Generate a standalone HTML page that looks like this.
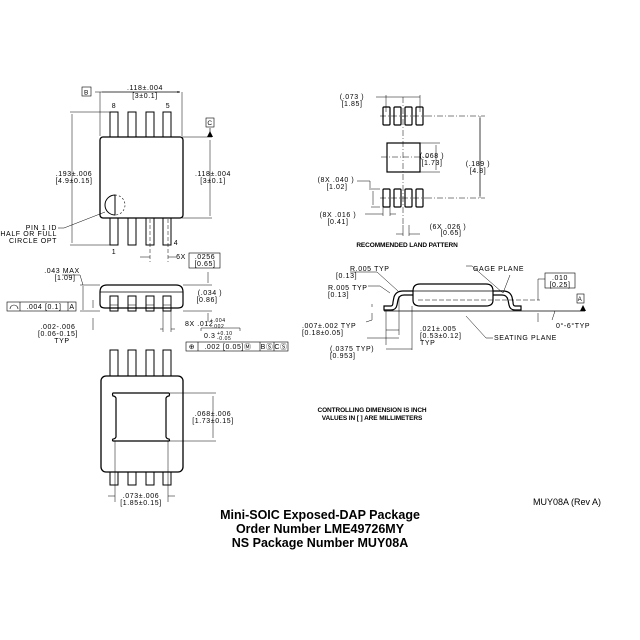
<!DOCTYPE html>
<html><head><meta charset="utf-8"><style>
html,body{margin:0;padding:0;background:#fff}
svg{display:block}
text{font-family:"Liberation Sans",sans-serif;font-size:7px;fill:#000;letter-spacing:0.6px}
.c{text-anchor:middle}.r{text-anchor:end}
.t{font-family:"Liberation Sans",sans-serif;font-weight:bold;font-size:12.5px;letter-spacing:0}
</style></head><body>
<svg width="640" height="640" viewBox="0 0 640 640" xmlns="http://www.w3.org/2000/svg">
<defs><marker id="a" viewBox="0 0 10 10" refX="10" refY="5" markerWidth="5" markerHeight="5" orient="auto-start-reverse"><path d="M0,1 L10,5 L0,9z"/></marker></defs>
<g fill="none" stroke="#000" stroke-width="1">
<!-- top view -->
<rect x="110" y="112" width="8" height="26" fill="#fff"/><rect x="128" y="112" width="8" height="26"/><rect x="146" y="112" width="8" height="26"/><rect x="163" y="112" width="8" height="26"/>
<rect x="110" y="217" width="8" height="28"/><rect x="128" y="217" width="8" height="28"/><rect x="146" y="217" width="8" height="28"/><rect x="163" y="217" width="8" height="28"/>
<rect x="100" y="137" width="83" height="81" rx="3" fill="#fff" stroke-width="1.3"/>
<path d="M115,195 A10,10 0 0 0 115,215 Z"/>
<path d="M115,195 A10,10 0 0 1 115,215" stroke-dasharray="2,2" stroke-width="0.6"/>
<path d="M150,219 V262 M168,219 V262" stroke-width="0.5" stroke-dasharray="4,2"/>
<path d="M100,92 V136 M182,92 V136 M102,92 H180" stroke-width="0.5"/>
<path d="M95,92 H180" stroke-width="0.5" marker-end="url(#a)"/>
<path d="M182,137 H212 M182,218 H212 M210,140 V216 M72,114 V243 M70,112 H110 M70,245 H110" stroke-width="0.5"/>
<path d="M210,128 V137" stroke-width="0.6" marker-end="url(#a)"/>
<path d="M58,228 L64,228 L105,212" stroke-width="0.5"/>
<path d="M150,257 H140 M168,257 H176" stroke-width="0.5"/>
<rect x="82" y="87" width="9" height="9" stroke-width="0.6"/>
<rect x="206" y="118" width="8" height="9" stroke-width="0.6"/>
<rect x="189" y="253" width="31" height="15" stroke-width="0.6"/>
<!-- side view left -->
<rect x="110" y="296" width="8" height="15"/><rect x="128" y="296" width="8" height="15"/><rect x="146" y="296" width="8" height="15"/><rect x="163" y="296" width="8" height="15"/>
<path d="M110,305H118M128,305H136M146,305H154M163,305H171" stroke-width="0.6"/>
<path d="M100,292 Q100,285 107,285 H176 Q183,285 183,292 V304 Q183,308 178,308 H105 Q100,308 100,304 Z" fill="none" stroke-width="1.2"/>
<path d="M100,292 H183" stroke-width="0.8"/>
<path d="M83,286 V310 M80,285 H100 M80,311 H100 M183,285 H212 M183,311 H212 M208,272 V283 M208,313 V322 M93,300 V308 M93,318 V330 M62,275 H80 L83,285 M163,311 V332 M171,311 V332 M160,329 H163 M171,329 H175" stroke-width="0.5"/>
<rect x="7" y="302" width="69" height="9" stroke-width="0.6"/><path d="M20,302V311M68,302V311" stroke-width="0.6"/>
<path d="M10,309 A4,4 0 0 1 18,309" stroke-width="0.6"/>
<rect x="186" y="342" width="102" height="9" stroke-width="0.6"/><path d="M198,342V351M260,342V351M274,342V351" stroke-width="0.6"/>
<path d="M201,331 V328 H240 V331" stroke-width="0.5"/>
<!-- bottom view -->
<rect x="110" y="350" width="8" height="28"/><rect x="128" y="350" width="8" height="28"/><rect x="146" y="350" width="8" height="28"/><rect x="163" y="350" width="8" height="28"/>
<rect x="110" y="470" width="8" height="15"/><rect x="128" y="470" width="8" height="15"/><rect x="146" y="470" width="8" height="15"/><rect x="163" y="470" width="8" height="15"/>
<rect x="101" y="376" width="82" height="96" rx="5" fill="#fff" stroke-width="1.3"/>
<path d="M113,393 H169 Q170,394 169,396 Q167,396 166,398 V437 Q167,439 169,439 Q170,441 169,441 H113 Q112,440 113,439 Q115,439 116,437 V398 Q115,396 113,396 Q112,394 113,393Z" stroke-width="1.2"/>
<path d="M170,393 H216 M170,441 H216 M213,396 V438 M115,441 V502 M168,441 V502 M108,496 H115 M168,496 H175" stroke-width="0.5"/>
<!-- land pattern -->
<g stroke-width="1.2">
<rect x="383" y="107" width="7" height="18" rx="1"/><rect x="394" y="107" width="7" height="18" rx="1"/><rect x="405" y="107" width="7" height="18" rx="1"/><rect x="416" y="107" width="7" height="18" rx="1"/>
<rect x="383" y="189" width="7" height="18" rx="1"/><rect x="394" y="189" width="7" height="18" rx="1"/><rect x="405" y="189" width="7" height="18" rx="1"/><rect x="416" y="189" width="7" height="18" rx="1"/>
<rect x="387" y="143" width="33" height="29"/></g>
<path d="M380,116 H426 M380,198 H426 M381,157 H428 M426,116 H485 M426,198 H485 M403,97 V225" stroke-width="0.5" stroke-dasharray="6,2,1,2"/>
<path d="M386,95 V112 M420,95 V112 M386,97 H420 M376,97 H386 M480,118 V196 M420,143 H440 M420,172 H440 M436,145 V170 M380,189 H371 M380,207 H371 M373,191 V205 M357,181 H370 V190 M383,207 V216 M390,207 V216 M365,214 H383 M390,214 H396 M403,225 V236 M409,225 V236 M396,234 H403 M409,234 H420" stroke-width="0.5"/>
<path d="M480,116 V198" stroke-width="0.5"/>
<!-- side view right -->
<path d="M413,291 Q413,284 420,284 H486 Q493,284 493,291 V300 Q493,306 486,306 H420 Q413,306 413,300 Z" stroke-width="1.2"/>
<path d="M413,291 H493" stroke-width="0.8"/>
<path d="M413,295 L404,295 Q399,295 398,300 L397,305 Q396,310 391,310 H384 V306 H391 Q393,306 393,302 L394,297 Q396,291 403,291 H413" stroke-width="1.2"/>
<path d="M493,295 L502,295 Q507,295 508,300 L509,305 Q510,310 515,310 H521 V306 H515 Q513,306 513,302 L512,297 Q510,291 503,291 H493" stroke-width="1.2"/>
<path d="M418,300 H540" stroke-width="0.5" stroke-dasharray="5,2"/>
<path d="M384,311 H585" stroke-width="0.7"/>
<path d="M386,311 V345 M399,296 V335 M412,306 V350 M386,330 H399 M386,349 H412 M372,304 V307 M372,313 V320 M538,300 V279 H545 M538,313 V322 M555,311 L552,320 M510,275 L503,293 L472,266 H466 M466,316 L486,338 H493 M377,272 L398,291 M350,272 L377,272 M380,286 L390,293 M368,286 L380,286 M372,320 L366,322 M367,338 H399" stroke-width="0.5"/>
<rect x="545" y="273" width="30" height="15" stroke-width="0.6"/>
<rect x="577" y="294" width="7" height="9" stroke-width="0.6"/>
</g>
<path d="M580,311 L583,305 L586,311z"/>
<path d="M207,137 L210,131 L213,137z"/>
<!-- texts top view -->
<text x="86.5" y="94.5" class="c" style="font-size:6.5px">B</text>
<text x="210" y="125" class="c" style="font-size:6.5px">C</text>
<text x="145" y="90" class="c">.118±.004</text><text x="145" y="98" class="c">[3±0.1]</text>
<text x="114" y="108" class="c">8</text><text x="168" y="108" class="c">5</text>
<text x="213" y="176" class="c">.118±.004</text><text x="213" y="183" class="c">[3±0.1]</text>
<text x="74" y="176" class="c">.193±.006</text><text x="74" y="183" class="c">[4.9±0.15]</text>
<text x="57" y="230" class="r">PIN 1 ID</text><text x="57" y="236" class="r">HALF OR FULL</text><text x="57" y="243" class="r">CIRCLE OPT</text>
<text x="114" y="254" class="c">1</text><text x="176" y="245" class="c">4</text>
<text x="181" y="259" class="c">6X</text><text x="205" y="259" class="c">.0256</text><text x="205" y="266" class="c">[0.65]</text>
<!-- side left -->
<text x="62" y="273" class="c">.043 MAX</text><text x="65" y="280" class="c">[1.09]</text>
<text x="210" y="295" class="c">(.034  )</text><text x="207" y="302" class="c">[0.86]</text>
<text x="44" y="309" class="c">.004 [0.1]</text><text x="72" y="309" class="c">A</text>
<text x="58" y="329" class="c">.002-.006</text><text x="58" y="336" class="c">[0.06-0.15]</text><text x="62" y="343" class="c">TYP</text>
<text x="185" y="326">8X .012</text><text x="210" y="322" style="font-size:5px">+.004</text><text x="210" y="328" style="font-size:5px">-.002</text>
<text x="204" y="338">0.3</text><text x="217" y="335" style="font-size:5px">+0.10</text><text x="217" y="340" style="font-size:5px">-0.05</text>
<text x="192" y="349" class="c">⊕</text><text x="228" y="349" class="c">.002 [0.05]Ⓜ</text><text x="267" y="349" class="c">BⓈ</text><text x="281" y="349" class="c">CⓈ</text>
<!-- bottom view -->
<text x="213" y="416" class="c">.068±.006</text><text x="213" y="423" class="c">[1.73±0.15]</text>
<text x="141" y="498" class="c">.073±.006</text><text x="141" y="505" class="c">[1.85±0.15]</text>
<!-- land pattern -->
<text x="352" y="99" class="c">(.073  )</text><text x="352" y="106" class="c">[1.85]</text>
<text x="432" y="158" class="c">(.068  )</text><text x="432" y="165" class="c">[1.73]</text>
<text x="478" y="166" class="c">(.189  )</text><text x="478" y="173" class="c">[4.8]</text>
<text x="336" y="182" class="c">(8X .040  )</text><text x="337" y="189" class="c">[1.02]</text>
<text x="338" y="217" class="c">(8X .016  )</text><text x="338" y="224" class="c">[0.41]</text>
<text x="448" y="229" class="c">(6X .026  )</text><text x="451" y="235" class="c">[0.65]</text>
<text x="407" y="247" class="c" style="font-weight:bold;font-size:6.5px;letter-spacing:-0.1px">RECOMMENDED LAND PATTERN</text>
<!-- side right -->
<text x="350" y="271">R.005  TYP</text><text x="336" y="278">[0.13]</text>
<text x="328" y="290">R.005  TYP</text><text x="328" y="297">[0.13]</text>
<text x="473" y="271">GAGE PLANE</text>
<text x="560" y="280" class="c">.010</text><text x="560" y="287" class="c">[0.25]</text>
<text x="580" y="301" class="c" style="font-size:6px">A</text>
<text x="302" y="328">.007±.002  TYP</text><text x="302" y="335">[0.18±0.05]</text>
<text x="420" y="331">.021±.005</text><text x="420" y="338">[0.53±0.12]</text><text x="420" y="345">TYP</text>
<text x="494" y="340">SEATING PLANE</text>
<text x="556" y="328">0°-6°TYP</text>
<text x="330" y="351">(.0375  TYP)</text><text x="330" y="358">[0.953]</text>
<text x="372" y="412" class="c" style="font-weight:bold;font-size:6.5px;letter-spacing:-0.1px">CONTROLLING DIMENSION IS INCH</text>
<text x="372" y="420" class="c" style="font-weight:bold;font-size:6.5px;letter-spacing:-0.1px">VALUES IN [ ] ARE MILLIMETERS</text>
<text x="567" y="505" style="font-size:9px;letter-spacing:0" class="c">MUY08A (Rev A)</text>
<text x="320" y="519" class="c t">Mini-SOIC Exposed-DAP Package</text>
<text x="320" y="533" class="c t">Order Number LME49726MY</text>
<text x="320" y="547" class="c t">NS Package Number MUY08A</text>
</svg>
</body></html>
